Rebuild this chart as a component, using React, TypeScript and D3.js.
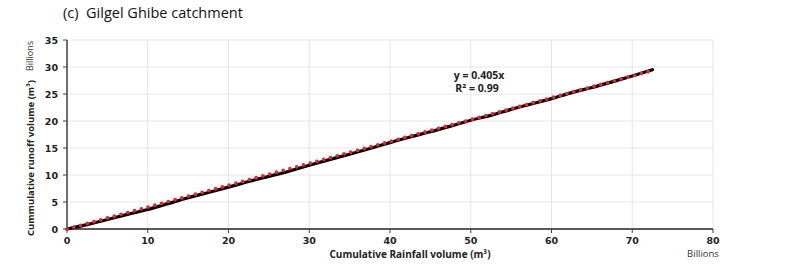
import React from "react";
import * as d3 from "d3";

const rainfall = [0, 2.5, 5, 7.5, 10, 12.5, 15, 17.5, 20, 22.5, 25, 27.5, 30, 32.5, 35, 37.5, 40, 42.5, 45, 47.5, 50, 52.5, 55, 57.5, 60, 62.5, 65, 67.5, 70, 72.5];
const runoff = [0, 0.8, 1.75, 2.7, 3.6, 4.7, 5.8, 6.75, 7.75, 8.8, 9.75, 10.7, 11.8, 12.85, 13.85, 14.9, 16.0, 17.05, 18.0, 19.05, 20.15, 21.05, 22.15, 23.15, 24.15, 25.25, 26.2, 27.25, 28.35, 29.5];
const slope = 0.405;
const xTicks = [0, 10, 20, 30, 40, 50, 60, 70, 80];
const yTicks = [0, 5, 10, 15, 20, 25, 30, 35];

export default function App() {
  const W = 794, H = 267;
  const x = d3.scaleLinear().domain([0, 80]).range([67, 713]);
  const y = d3.scaleLinear().domain([0, 35]).range([229, 40]);
  const pts = rainfall.map((r, i) => [r, runoff[i]] as [number, number]);
  const line = d3.line<[number, number]>().x(d => x(d[0])).y(d => y(d[1])).curve(d3.curveMonotoneX);
  const xMax = rainfall[rainfall.length - 1];
  const trend = [[0, 0], [xMax, slope * xMax]] as [number, number][];
  const tickFont = "'DejaVu Sans', Verdana, sans-serif";
  const lblFont = "'Open Sans', 'Noto Sans', sans-serif";
  return (
    <svg width={W} height={H} style={{ position: "absolute", left: 0, top: 0, background: "#fff" }}>
      <text x={63} y={18} fontFamily={lblFont} fontSize={14.5} fill="#111" style={{ whiteSpace: "pre" }}>(c)  Gilgel Ghibe catchment</text>
      {xTicks.map(t => (
        <line key={"gx" + t} x1={x(t)} x2={x(t)} y1={y(35)} y2={y(0)} stroke="#e6e6e6" strokeWidth={1} />
      ))}
      {yTicks.map(t => (
        <line key={"gy" + t} x1={x(0)} x2={x(80)} y1={y(t)} y2={y(t)} stroke="#e6e6e6" strokeWidth={1} />
      ))}
      <line x1={x(0)} x2={x(0)} y1={y(35)} y2={y(0)} stroke="#404040" strokeWidth={1.5} />
      <line x1={x(0)} x2={x(80)} y1={y(0)} y2={y(0)} stroke="#595959" strokeWidth={2} />
      {yTicks.map(t => (
        <g key={"ty" + t}>
          <line x1={x(0) - 4} x2={x(0)} y1={y(t)} y2={y(t)} stroke="#404040" strokeWidth={1} />
          <text x={x(0) - 9} y={y(t) + 3.5} textAnchor="end" fontFamily={tickFont} fontWeight="bold" fontSize={9.5} fill="#222">{t}</text>
        </g>
      ))}
      {xTicks.map(t => (
        <g key={"tx" + t}>
          <line x1={x(t)} x2={x(t)} y1={y(0)} y2={y(0) + 4} stroke="#404040" strokeWidth={1} />
          <text x={x(t)} y={y(0) + 15} textAnchor="middle" fontFamily={tickFont} fontWeight="bold" fontSize={9.5} fill="#222">{t}</text>
        </g>
      ))}
      <path d={line(pts) || ""} fill="none" stroke="#000" strokeWidth={3.2} strokeLinejoin="round" strokeLinecap="round" />
      <path d={d3.line()(trend.map(d => [x(d[0]), y(d[1])])) || ""} fill="none" stroke="#e8262e" strokeWidth={3.8} strokeDasharray="0 7" strokeLinecap="round" />
      <text x={479} y={79} textAnchor="middle" fontFamily={lblFont} fontWeight="bold" fontSize={10.5} fill="#222">y = 0.405x</text>
      <text x={477} y={92} textAnchor="middle" fontFamily={lblFont} fontWeight="bold" fontSize={10.5} fill="#222">R² = 0.99</text>
      <text x={410} y={258} textAnchor="middle" fontFamily={lblFont} fontWeight="bold" fontSize={10} fill="#222">Cumulative Rainfall volume (m³)</text>
      <text x={703} y={257} textAnchor="middle" fontFamily={lblFont} fontSize={9.5} fill="#333">Billions</text>
      <text transform="translate(34,158) rotate(-90)" textAnchor="middle" fontFamily={lblFont} fontWeight="bold" fontSize={9.5} fill="#222">Cummulative runoff volume (m³)</text>
      <text transform="translate(33,56) rotate(-90)" textAnchor="middle" fontFamily={lblFont} fontSize={9} fill="#333">Billions</text>
    </svg>
  );
}
